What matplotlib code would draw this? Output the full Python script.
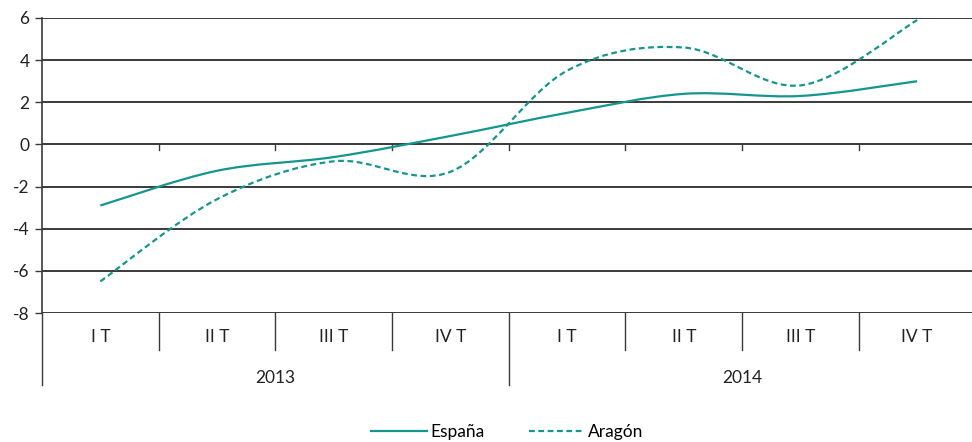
import matplotlib.pyplot as plt
from matplotlib.path import Path
from matplotlib.patches import PathPatch
from matplotlib.lines import Line2D
import numpy as np

quarters = ["I T", "II T", "III T", "IV T", "I T", "II T", "III T", "IV T"]
years = ["2013", "2014"]
espana = [-2.9, -1.25, -0.6, 0.4, 1.5, 2.4, 2.3, 3.0]
aragon = [-6.5, -2.6, -0.8, -1.3, 3.5, 4.6, 2.8, 5.9]
yticks = [-8, -6, -4, -2, 0, 2, 4, 6]

TEAL = "#14968f"
GRID = "#3a3a3a"
plt.rcParams["font.family"] = ["Lato", "DejaVu Sans"]


def smooth_path(xs, ys):
    # Excel-like smoothed line: cardinal spline as cubic Bezier segments
    pts = np.column_stack([xs, ys]).astype(float)
    n = len(pts)
    verts = [pts[0]]
    codes = [Path.MOVETO]
    for i in range(n - 1):
        p0 = pts[max(i - 1, 0)]
        p1 = pts[i]
        p2 = pts[i + 1]
        p3 = pts[min(i + 2, n - 1)]
        c1 = p1 + (p2 - p0) / 6
        c2 = p2 - (p3 - p1) / 6
        verts += [c1, c2, p2]
        codes += [Path.CURVE4] * 3
    return Path(verts, codes)


fig = plt.figure(figsize=(9.72, 4.42), dpi=100)
ax = fig.add_axes([42 / 972, 1 - 313 / 442, (975.5 - 42) / 972, 295 / 442])

x = np.arange(len(quarters))
ax.add_patch(PathPatch(smooth_path(x, espana), fill=False, color=TEAL, lw=1.6,
                       zorder=3))
ax.add_patch(PathPatch(smooth_path(x, aragon), fill=False, color=TEAL, lw=1.6,
                       linestyle=(0, (2.6, 1.6)), zorder=3))

ax.set_xlim(-0.5, len(quarters) - 0.5)
ax.set_ylim(-8, 6)
ax.set_yticks(yticks)
ax.set_yticklabels([str(v) for v in yticks], fontsize=12.5, color="#222222")
ax.tick_params(axis="y", length=5, width=1, color=GRID, pad=4)
ax.set_xticks([])
for s in ["top", "right", "bottom"]:
    ax.spines[s].set_visible(False)
ax.spines["left"].set_color(GRID)
ax.spines["left"].set_linewidth(1.2)
for v in yticks:
    ax.axhline(v, color=GRID, lw=1.4, zorder=1)

# small ticks on the zero line at category boundaries
for b in np.arange(0.5, len(quarters) - 0.5):
    ax.plot([b, b], [0, -0.25], color=GRID, lw=1, zorder=2)

# two-level category axis below the plot
tr = ax.get_xaxis_transform()
for i, b in enumerate(np.arange(-0.5, len(quarters) + 0.5)):
    y0 = -0.244 if i % 4 == 0 else -0.125
    ax.plot([b, b], [0, y0], color=GRID, lw=1, transform=tr, clip_on=False)
for i, q in enumerate(quarters):
    ax.text(i, -0.081, q, transform=tr, ha="center", va="center",
            fontsize=12.5, color="#222222")
for j, yr in enumerate(years):
    ax.text(j * 4 + 1.5, -0.22, yr, transform=tr, ha="center", va="center",
            fontsize=12.5, color="#222222")

handles = [Line2D([], [], color=TEAL, lw=1.6),
           Line2D([], [], color=TEAL, lw=1.6, linestyle=(0, (2.6, 1.6)))]
fig.legend(handles, ["España", "Aragón"], loc="center",
           bbox_to_anchor=(0.522, 0.023), ncol=2, frameon=False,
           fontsize=12.5, handlelength=3.2, handletextpad=0.2,
           columnspacing=2.6)

fig.savefig("out.png", dpi=100)
